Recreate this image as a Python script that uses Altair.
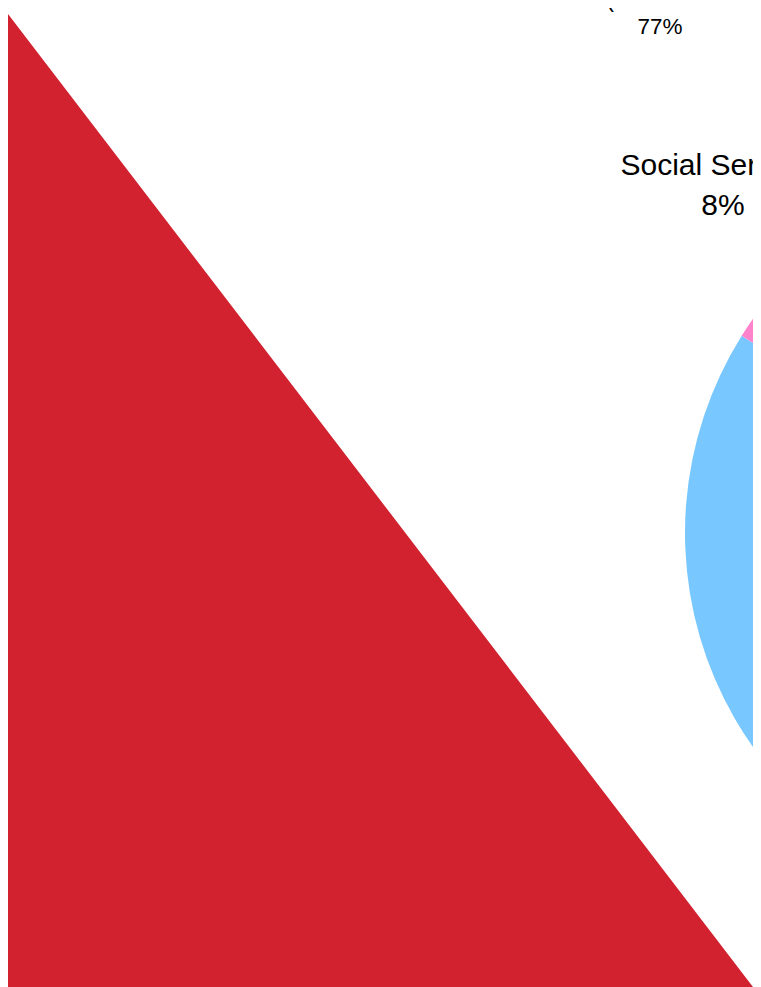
import math
import altair as alt
import pandas as pd

# ---- data ----
gender_cats = ["Female (Women and Girls)", "Other"]
gender_vals = [77, 23]
gender_colors = ["#d2222f", "transparent"]

sector_cats = ["Other sectors", "Social Services"]
sector_vals = [92, 8]
sector_colors = ["#78c8ff", "#ff82cc"]

label_lines_female = ["Female (Women and Girls)", "77%"]
label_lines_social = ["Social Services", "8%"]

W, H = 745, 979
deg = math.pi / 180

left_df = pd.DataFrame({"category": gender_cats, "value": gender_vals, "idx": [0, 1]})
right_df = pd.DataFrame({"category": sector_cats, "value": sector_vals, "idx": [0, 1]})

left_start = 142.56 * deg
left_pie = alt.Chart(left_df).mark_arc(radius=1600, strokeWidth=0).encode(
    theta=alt.Theta("value:Q", stack=True,
                    scale=alt.Scale(range=[left_start, left_start + 2 * math.pi])),
    color=alt.Color("category:N",
                    scale=alt.Scale(domain=gender_cats, range=gender_colors),
                    legend=None),
    order=alt.Order("idx:Q"),
    x=alt.value(-3),
    y=alt.value(2),
)

right_start = (302.1 - 360 * sector_vals[0] / sum(sector_vals)) * deg
right_pie = alt.Chart(right_df).mark_arc(radius=371, strokeWidth=0).encode(
    theta=alt.Theta("value:Q", stack=True,
                    scale=alt.Scale(range=[right_start, right_start + 2 * math.pi])),
    color=alt.Color("category:N",
                    scale=alt.Scale(domain=sector_cats, range=sector_colors),
                    legend=None),
    order=alt.Order("idx:Q"),
    x=alt.value(1048),
    y=alt.value(525),
)

fem_df = pd.DataFrame({"t": label_lines_female, "line": [0, 1]})
soc_df = pd.DataFrame({"t": label_lines_social, "line": [0, 1]})

fem_text = alt.Chart(fem_df).mark_text(
    font="Liberation Sans", fontSize=22.5, align="center", baseline="alphabetic",
    color="#000000",
).encode(
    text="t:N",
    x=alt.value(652),
    y=alt.Y("line:Q", scale=alt.Scale(domain=[0, 1], range=[-1.5, 26]), axis=None),
)

soc_text = alt.Chart(soc_df).mark_text(
    font="Liberation Sans", fontSize=30, align="center", baseline="alphabetic",
    color="#000000",
).encode(
    text="t:N",
    x=alt.value(715),
    y=alt.Y("line:Q", scale=alt.Scale(domain=[0, 1], range=[167, 207]), axis=None),
)

chart = alt.layer(left_pie, right_pie, fem_text, soc_text).resolve_scale(
    color="independent", theta="independent", y="independent"
).properties(
    width=W, height=H, autosize=alt.AutoSizeParams(type="none"), padding=0,
    background="#ffffff",
).configure_view(stroke=None)

chart.save("out.html", embed_options={"renderer": "svg", "actions": False})
